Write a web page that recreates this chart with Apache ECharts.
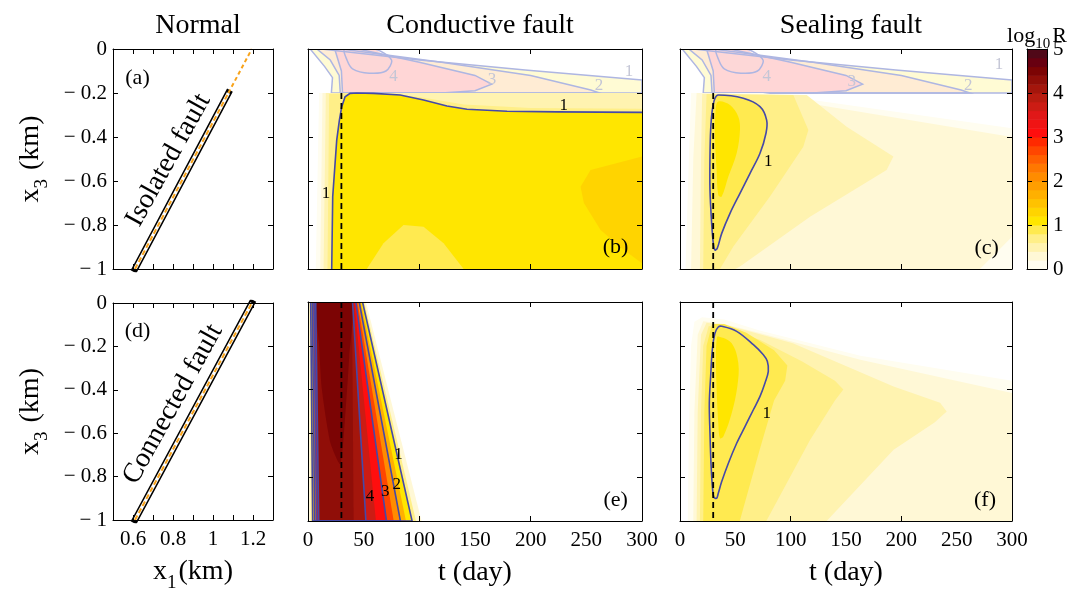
<!DOCTYPE html>
<html>
<head>
<meta charset="utf-8">
<script src="https://cdn.jsdelivr.net/npm/echarts@6/dist/echarts.min.js"></script>
<style>
  html, body { margin: 0; background: #fff; }
  #chart { width: 1082px; height: 594px; }
</style>
</head>
<body>
<div id="chart"></div>
<script>
// ---------- axes / ticks ----------
const tTicks = [100, 200];
const tLabels = [0, 50, 100, 150, 200, 250, 300];
const x1Ticks = [0.6, 0.7, 0.8, 0.9, 1.0, 1.1, 1.2];
const x1Labels = [0.6, 0.8, 1, 1.2];
const x3Ticks = [0, -0.2, -0.4, -0.6, -0.8, -1];
const cbTicks = [0, 1, 2, 3, 4, 5];
const cbInnerTicks = [1, 2, 3, 4];

// ---------- colour bands of log10R ----------
const bandStarts = [0, 0.2, 0.4, 0.6, 0.8, 1, 1.2, 1.4, 1.6, 1.8, 2, 2.2, 2.4, 2.6, 2.8, 3, 3.2, 3.4, 3.6, 3.8, 4, 4.2, 4.4, 4.6, 4.8];
const bandColors = ['#fffdf0', '#fff8d6', '#fff3b0', '#ffef88', '#ffea50', '#ffe600', '#ffd400', '#ffc200', '#ffb000', '#ff9e00',
  '#ff8c00', '#ff7800', '#ff6000', '#ff4600', '#ff2a00', '#ff0e0e', '#f01414', '#e01818', '#cc1c14', '#b81c10',
  '#a4160c', '#900e08', '#7c0404', '#680010', '#500818'];

// ---------- geometry ----------
const tEnd = 300;
const faultTop = -0.2;
const shutIn = 30;   // day of the dashed line
const isolatedFault = [[0.61, -1], [1.077, -0.2]];
const faultTip = [[1.077, -0.2], [1.194, 0]];
const connectedFault = [[0.61, -1], [1.194, 0]];

// ---------- faded strip above the fault top (b, c) ----------
const stripGe1 = [[2, 0], [12, 0], [100, -0.05], [195, -0.095], [300, -0.141], [300, -0.2], [21, -0.2], [22, -0.13], [15, -0.08]];
const stripGe2 = [[8, 0], [30, 0], [120, -0.06], [200, -0.12], [254, -0.186], [262, -0.2], [29, -0.2], [28, -0.12], [20, -0.05]];
const stripGe3 = [[24, 0], [45, 0], [100, -0.06], [150, -0.12], [165, -0.16], [150, -0.19], [120, -0.2], [31, -0.2], [30, -0.1]];
const stripGe4 = [[33, 0], [60, 0], [75, -0.05], [70, -0.1], [55, -0.11], [40, -0.09], [35, -0.05]];

// ---------- (b) conductive, isolated ----------
const condTop1 = [[10, -0.2], [300, -0.2], [300, -1], [7, -1]];
const condTop2 = [[13, -0.2], [300, -0.2], [300, -1], [11, -1]];
const condTop3 = [[16, -0.2], [300, -0.2], [300, -1], [14, -1]];
const condTop4 = [[19, -0.205], [40, -0.2], [70, -0.205], [100, -0.218], [140, -0.252], [200, -0.268], [300, -0.272], [300, -1], [17.5, -1]];
const condTopC1 = [[21.3, -1], [22.2, -0.671], [25.8, -0.414], [28.2, -0.323], [30.3, -0.262], [33.3, -0.217], [37.8, -0.2015],
  [43.8, -0.2], [58.8, -0.2015], [82.8, -0.209], [103.8, -0.232], [124.8, -0.259], [142.8, -0.274], [178.8, -0.283], [223.8, -0.286], [300, -0.288]];
const condTopDeep = [[300, -0.489], [253.8, -0.55], [244.8, -0.626], [247.8, -0.7], [262.8, -0.823], [283.8, -0.914], [300, -0.974]];
const condTopBump = [[52.8, -1], [67.8, -0.883], [85.8, -0.8], [103.8, -0.808], [121.8, -0.883], [139.8, -1]];

// ---------- (c) sealing, isolated ----------
const sealTop1 = [[5, -1], [8, -0.5], [10, -0.2], [75, -0.2], [300, -0.36], [300, -1]];
const sealTop2 = [[10, -1], [12, -0.5], [15, -0.2], [40, -0.2], [120, -0.25], [300, -0.4], [300, -1]];
const sealTopCorner = [[271, -1], [300, -0.853], [300, -1]];
const sealTop3 = [[18, -1], [19, -0.5], [20, -0.205], [114.5, -0.209], [150.6, -0.353], [192.8, -0.489], [186.7, -0.55], [117.5, -0.762], [54.2, -0.989], [50, -1]];
const sealTop4 = [[21, -1], [22, -0.5], [24, -0.205], [102.4, -0.209], [116, -0.368], [111.4, -0.444], [81.3, -0.671], [48.2, -0.898], [36.1, -1]];
const sealTopC1 = [[34.6, -0.209], [57.2, -0.224], [72.3, -0.262], [78.3, -0.323], [77.7, -0.383], [72.3, -0.474], [63.3, -0.565], [54.2, -0.656],
  [45.2, -0.747], [37.7, -0.838], [33.7, -0.906], [31.6, -0.914], [30.1, -0.883], [28.6, -0.792], [27.1, -0.641], [27.1, -0.489], [27.7, -0.368], [29.2, -0.277], [31.6, -0.224]];
const sealTopCore = [[34.6, -0.239], [45.2, -0.255], [52.7, -0.308], [54.2, -0.368], [51.2, -0.474], [43.7, -0.58], [37.7, -0.671], [34.6, -0.664], [33.1, -0.55], [31.6, -0.398], [32.2, -0.277]];

// ---------- (e) conductive, connected ----------
const condBot02 = [[0.8, 0], [52, 0], [102, -1], [1, -1]];
const condBot06 = [[1.5, 0], [50.5, 0], [97, -1], [2.5, -1]];
const condBot10 = [[2.4, 0], [49, 0], [93.5, -1], [4.2, -1]];
const condBot15 = [[3, 0], [47.5, 0], [88, -1], [5, -1]];
const condBot20 = [[3.9, 0], [46, 0], [83, -1], [6, -1]];
const condBot25 = [[4.6, 0], [44.5, 0], [77, -1], [7, -1]];
const condBot30 = [[5.4, 0], [43, 0], [70.5, -1], [7.8, -1]];
const condBot35 = [[6.2, 0], [41.5, 0], [61, -1], [8.7, -1]];
const condBot40 = [[6.9, 0], [40, 0], [52, -1], [9.6, -1]];
const condBot44 = [[7.6, 0], [39.5, 0], [41, -1], [10.5, -1]];
const condBotCore = [[8.4, 0], [39, 0], [37, -0.25], [33, -0.55], [29, -0.74], [20, -0.64], [12.5, -0.4], [10, -0.2]];

// ---------- (f) sealing, connected ----------
const sealBot1 = [[7, -1], [8, -0.6], [10, -0.2], [13, -0.09], [20, -0.07], [40, -0.08], [72, -0.13], [163, -0.245], [300, -0.36], [300, -1]];
const sealBot2 = [[12, -1], [13, -0.5], [16, -0.15], [21, -0.088], [40, -0.1], [72, -0.142], [163, -0.264], [300, -0.416], [300, -1]];
const sealBot3 = [[15, -1], [16, -0.5], [19, -0.15], [24, -0.095], [45, -0.11], [102, -0.188], [193, -0.386], [235, -0.46], [241, -0.5], [230, -0.55], [193, -0.675], [132.5, -1]];
const sealBot4 = [[18, -1], [19, -0.5], [21, -0.2], [26, -0.11], [45, -0.125], [72, -0.172], [110, -0.27], [140, -0.36], [147.6, -0.4], [140, -0.45], [117.5, -0.63], [78, -1]];
const sealBot5 = [[21, -1], [22, -0.5], [24, -0.2], [29, -0.1], [40, -0.1], [60, -0.14], [85, -0.22], [97, -0.29], [95, -0.36], [85, -0.45], [72, -0.675], [54, -1]];
const sealBotC1 = [[37.7, -0.111], [51.2, -0.134], [66.3, -0.195], [75.3, -0.241], [78.9, -0.271], [79.8, -0.317], [76.8, -0.37], [72.3, -0.431], [66.3, -0.492],
  [58.7, -0.569], [51.2, -0.645], [43.7, -0.736], [37.7, -0.82], [34.6, -0.873], [33.1, -0.896], [30.7, -0.892], [29.5, -0.858], [28, -0.736], [27.1, -0.599],
  [26.5, -0.462], [27.7, -0.34], [29.2, -0.218], [31.6, -0.142], [34.6, -0.114]];
const sealBotCore = [[34.6, -0.157], [46.7, -0.188], [52.7, -0.279], [51.8, -0.386], [46.7, -0.508], [39.2, -0.614], [36.1, -0.622], [34.6, -0.553], [33.1, -0.4], [32.5, -0.248], [33.1, -0.172]];

// ---------- labels ----------
const condTopLabels = [[229.8, -0.255, '1'], [16.2, -0.656, '1']];
const sealTopLabels = [[79.8, -0.512, '1']];
const condBotLabels = [[81.3, -0.698, '1'], [79.8, -0.835, '2'], [69.3, -0.866, '3'], [55.8, -0.89, '4']];
const sealBotLabels = [[78.3, -0.508, '1']];
const stripLabelsCond = [[288.3, -0.103, '1'], [261.3, -0.164, '2'], [165.3, -0.141, '3'], [76.8, -0.126, '4']];
const stripLabelsSeal = [[288.3, -0.07, '1'], [260.5, -0.164, '2'], [155.1, -0.148, '3'], [78.3, -0.126, '4']];
const tagA = [[0.6225, -0.132, '(a)']];
const tagD = [[0.6225, -0.132, '(d)']];
const tagB = [[276.3, -0.899, '(b)']];
const tagC = [[277.1, -0.906, '(c)']];
const tagE = [[276.3, -0.903, '(e)']];
const tagF = [[275.6, -0.903, '(f)']];
const isolatedNote = [[0.777, -0.505, 'Isolated fault']];
const connectedNote = [[0.8, -0.466, 'Connected fault']];

// ---------- layout ----------
const font = 'Liberation Serif';
const black = '#000';
const lineBlue = '#4549a8';
const fadedBlue = '#aeb6e2';
const grids = [
  { left: 113, top: 49, width: 160, height: 220 },   // a
  { left: 308, top: 49, width: 334, height: 220 },   // b
  { left: 680, top: 49, width: 332, height: 220 },   // c
  { left: 113, top: 303, width: 160, height: 219 },  // d
  { left: 308, top: 302, width: 334, height: 219 },  // e
  { left: 680, top: 302, width: 332, height: 219 },  // f
  { left: 1027, top: 49, width: 20, height: 220 }    // colour bar
];

function subStyle (big, small, drop) {
  return {
    color: black,
    rich: {
      a: { fontSize: big, fontFamily: font, fontWeight: 'normal', lineHeight: big + 2, verticalAlign: 'top', color: black },
      s: { fontSize: small, fontFamily: font, fontWeight: 'normal', lineHeight: small, verticalAlign: 'top', padding: [drop, 2, 0, 0], color: black }
    }
  };
}
const nameStyle = subStyle(28, 19, 16);
const lineStyleAxis = { color: black, width: 1 };

function xAxes (g, min, max, ticks, labels, name, topName) {
  const common = {
    gridIndex: g, type: 'value', min, max, z: 10,
    splitLine: { show: false },
    axisLine: { show: true, onZero: false, lineStyle: lineStyleAxis },
    axisTick: ticks ? { show: true, inside: true, length: 5, customValues: ticks, lineStyle: lineStyleAxis } : { show: false }
  };
  return [
    Object.assign({}, common, {
      position: 'bottom',
      axisLabel: labels
        ? { show: true, customValues: labels, margin: 9, fontSize: 21, color: black, fontFamily: font, formatter: v => String(v) }
        : { show: false },
      name: name || '', nameLocation: 'middle', nameGap: 38, nameTextStyle: nameStyle
    }),
    Object.assign({}, common, {
      position: 'top', axisLabel: { show: false },
      name: topName || '', nameLocation: 'middle', nameGap: 0, nameTextStyle: subStyle(22, 15, 12)
    })
  ];
}

function yAxes (g, min, max, ticks, labels, fmt, name, labelRight) {
  const common = {
    gridIndex: g, type: 'value', min, max, z: 10,
    splitLine: { show: false },
    axisLine: { show: true, onZero: false, lineStyle: lineStyleAxis },
    axisTick: { show: true, inside: true, length: 5, customValues: ticks, lineStyle: lineStyleAxis }
  };
  const lab = labels
    ? { show: true, customValues: labels, margin: 6, fontSize: 21, color: black, fontFamily: font, formatter: fmt }
    : { show: false };
  return [
    Object.assign({}, common, {
      position: 'left', axisLabel: labelRight ? { show: false } : lab,
      name: name || '', nameLocation: 'middle', nameRotate: 90, nameGap: 66, nameTextStyle: nameStyle
    }),
    Object.assign({}, common, { position: 'right', axisLabel: labelRight ? lab : { show: false } })
  ];
}

const depthFmt = v => (v === 0 ? '0' : '\u2212 ' + Math.abs(v));
const xAxis = [].concat(
  xAxes(0, 0.5, 1.3, x1Ticks, null),
  xAxes(1, 0, tEnd, tTicks, null),
  xAxes(2, 0, tEnd, tTicks, null),
  xAxes(3, 0.5, 1.3, x1Ticks, x1Labels, '{a|x}{s|1}{a|(km)}'),
  xAxes(4, 0, tEnd, tTicks, tLabels, '{a|t (day)}'),
  xAxes(5, 0, tEnd, tTicks, tLabels, '{a|t (day)}'),
  xAxes(6, 0, 1, null, null, '', '{a|log}{s|10}{a|R}')
);
const yAxis = [].concat(
  yAxes(0, -1, 0, x3Ticks, x3Ticks, depthFmt, '{a|x}{s|3}{a| (km)}'),
  yAxes(1, -1, 0, x3Ticks, null),
  yAxes(2, -1, 0, x3Ticks, null),
  yAxes(3, -1, 0, x3Ticks, x3Ticks, depthFmt, '{a|x}{s|3}{a| (km)}'),
  yAxes(4, -1, 0, x3Ticks, null),
  yAxes(5, -1, 0, x3Ticks, null),
  yAxes(6, 0, 5, cbInnerTicks, cbTicks, v => String(v), '', true)
);

// ---------- series builders ----------
const series = [];
const fillIdx = [];

function addFill (g, bands) {
  fillIdx.push(series.length);
  series.push({
    type: 'custom', xAxisIndex: 2 * g, yAxisIndex: 2 * g, clip: true, silent: true,
    data: bands.map((b, i) => [b[0], i]),
    renderItem (params, api) {
      const b = bands[api.value(1)];
      return {
        type: 'polygon',
        shape: { points: b[1].map(p => api.coord(p)), smooth: b[2] || 0 },
        style: { fill: api.visual('color') }
      };
    }
  });
}

function addStrokes (g, items, color, width) {
  series.push({
    type: 'custom', xAxisIndex: 2 * g, yAxisIndex: 2 * g, clip: true, silent: true,
    data: items.map((it, i) => [i, i]),
    renderItem (params, api) {
      const it = items[params.dataIndex];
      return {
        type: it[1] ? 'polygon' : 'polyline',
        shape: { points: it[0].map(p => api.coord(p)), smooth: it[2] || 0 },
        style: { fill: 'none', stroke: color, lineWidth: width }
      };
    }
  });
}

function addVeil (g) {
  series.push({
    type: 'custom', xAxisIndex: 2 * g, yAxisIndex: 2 * g, clip: true, silent: true,
    data: [[0, 0]],
    renderItem (params, api) {
      const a = api.coord([0, 0]);
      const b = api.coord([tEnd, faultTop]);
      return {
        type: 'rect',
        shape: { x: a[0], y: a[1], width: b[0] - a[0], height: b[1] - a[1] },
        style: { fill: 'rgba(255,255,255,0.83)' }
      };
    }
  });
}

function addLine (g, pts, color, width, type, cap) {
  series.push({
    type: 'line', xAxisIndex: 2 * g, yAxisIndex: 2 * g, data: pts, silent: true,
    symbol: 'none', showSymbol: false, animation: false,
    lineStyle: { color, width, type: type || 'solid', cap: cap || 'butt' }
  });
}

function addText (g, items, size, color, rotate) {
  series.push({
    type: 'scatter', xAxisIndex: 2 * g, yAxisIndex: 2 * g, silent: true, symbolSize: 1, z: 5,
    itemStyle: { color: 'rgba(0,0,0,0)', opacity: 1 },
    data: items.map(d => ({ value: [d[0], d[1]], name: d[2] })),
    label: {
      show: true, position: 'inside', formatter: '{b}', fontSize: size, color, opacity: 1,
      fontFamily: font, rotate: rotate || 0, textBorderWidth: 0
    }
  });
}

// ---------- (a) and (d) ----------
addLine(0, isolatedFault, black, 6.5, 'solid', 'square');
addLine(0, isolatedFault, '#fff', 3.5);
addLine(0, isolatedFault, '#f8a31a', 2, [5, 3]);
addLine(0, faultTip, '#f8a31a', 2, [4, 3]);
addText(0, tagA, 22, black);
addText(0, isolatedNote, 28, black, 61);

addLine(3, connectedFault, black, 6.5, 'solid', 'square');
addLine(3, connectedFault, '#fff', 3.5);
addLine(3, connectedFault, '#f8a31a', 2, [5, 3]);
addText(3, tagD, 22, black);
addText(3, connectedNote, 28, black, 61);

// ---------- (b) ----------
const stripBands = [[1.1, stripGe1], [2.1, stripGe2], [3.1, stripGe3], [3.3, stripGe4]];
const stripOutlines = [[stripGe1, true], [stripGe2, true], [stripGe3, true], [stripGe4, true, 0.3]];
addFill(1, stripBands);
addVeil(1);
addStrokes(1, stripOutlines, fadedBlue, 1.5);
addText(1, stripLabelsCond, 17, '#c4c6d6');
addFill(1, [[0.1, condTop1], [0.3, condTop2], [0.5, condTop3], [0.7, condTop4],
  [1.1, condTopC1.concat([[300, -1]])], [1.3, condTopDeep], [0.9, condTopBump]]);
addStrokes(1, [[condTopC1, false]], lineBlue, 1.6);
addLine(1, [[shutIn, faultTop], [shutIn, -1]], black, 1.8, [6, 4]);
addText(1, condTopLabels, 17, black);
addText(1, tagB, 22, black);

// ---------- (c) ----------
addFill(2, stripBands);
addVeil(2);
addStrokes(2, stripOutlines, fadedBlue, 1.5);
addText(2, stripLabelsSeal, 17, '#c4c6d6');
addFill(2, [[0.1, sealTop1], [0.3, sealTop2], [0.1, sealTopCorner], [0.5, sealTop3], [0.7, sealTop4],
  [0.9, sealTopC1, 0.35], [1.1, sealTopCore, 0.35]]);
addStrokes(2, [[sealTopC1, true, 0.35]], lineBlue, 1.6);
addLine(2, [[shutIn, faultTop], [shutIn, -1]], black, 1.8, [6, 4]);
addText(2, sealTopLabels, 17, black);
addText(2, tagC, 22, black);

// ---------- (e) ----------
addFill(4, [[0.3, condBot02], [0.7, condBot06], [1.1, condBot10], [1.6, condBot15], [2.1, condBot20], [2.6, condBot25],
  [3.1, condBot30], [3.6, condBot35], [4.1, condBot40], [4.3, condBot44], [4.5, condBotCore, 0.2]]);
addStrokes(4, [[condBot10, true], [condBot20, true], [condBot30, true], [condBot40, true]], lineBlue, 1.6);
addLine(4, [[shutIn, 0], [shutIn, -1]], black, 1.8, [6, 4]);
addText(4, condBotLabels, 17, black);
addText(4, tagE, 22, black);

// ---------- (f) ----------
addFill(5, [[0.1, sealBot1], [0.3, sealBot2], [0.5, sealBot3], [0.7, sealBot4], [0.9, sealBot5],
  [0.9, sealBotC1, 0.35], [1.1, sealBotCore, 0.35]]);
addStrokes(5, [[sealBotC1, true, 0.35]], lineBlue, 1.6);
addLine(5, [[shutIn, 0], [shutIn, -1]], black, 1.8, [6, 4]);
addText(5, sealBotLabels, 17, black);
addText(5, tagF, 22, black);

// ---------- colour bar ----------
fillIdx.push(series.length);
series.push({
  type: 'custom', xAxisIndex: 12, yAxisIndex: 12, clip: true, silent: true,
  data: bandStarts.map(s => [s + 0.1, s]),
  renderItem (params, api) {
    const i = params.dataIndex;
    const hi = i + 1 < bandStarts.length ? bandStarts[i + 1] : 5;
    const a = api.coord([0, hi]);
    const b = api.coord([1, bandStarts[i]]);
    return {
      type: 'rect',
      shape: { x: a[0], y: a[1], width: b[0] - a[0], height: b[1] - a[1] + 0.5 },
      style: { fill: api.visual('color') }
    };
  }
});

const pieces = bandStarts.map((s, i) => ({
  gte: s, lt: i + 1 < bandStarts.length ? bandStarts[i + 1] : 5.01, color: bandColors[i]
}));

const titleStyle = { fontSize: 28, fontWeight: 'normal', fontFamily: font, color: black };
const option = {
  animation: false,
  textStyle: { fontFamily: font },
  title: [
    { text: 'Normal', left: 193, top: 7, textAlign: 'center', textStyle: titleStyle },
    { text: 'Conductive fault', left: 475, top: 7, textAlign: 'center', textStyle: titleStyle },
    { text: 'Sealing fault', left: 846, top: 7, textAlign: 'center', textStyle: titleStyle }
  ],
  grid: grids,
  xAxis,
  yAxis,
  visualMap: { type: 'piecewise', show: false, dimension: 0, seriesIndex: fillIdx, pieces },
  series
};

const chart = echarts.init(document.getElementById('chart'));
chart.setOption(option);
</script>
</body>
</html>
